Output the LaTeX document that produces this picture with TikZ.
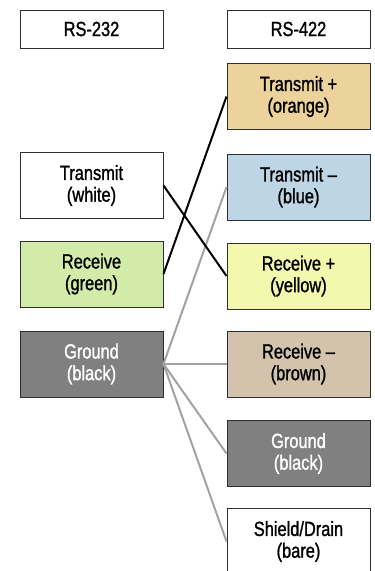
\documentclass[tikz,border=0pt]{standalone}
\usepackage{fontspec}
\setmainfont{Liberation Sans}[FakeStretch=0.8,FakeBold=1.2]
\definecolor{borderc}{HTML}{2E2E2E}
\definecolor{orangec}{HTML}{ECD39B}
\definecolor{bluec}{HTML}{BDD5E4}
\definecolor{yellowc}{HTML}{F4F8AE}
\definecolor{brownc}{HTML}{D3C3AD}
\definecolor{greenc}{HTML}{D3EBA9}
\definecolor{grayc}{HTML}{808080}
\definecolor{wirec}{HTML}{A3A3A3}
\begin{document}
\begin{tikzpicture}[x=1pt,y=-1pt,
  box/.style={draw=borderc, line width=1pt, rectangle, inner sep=0pt,
    minimum width=143pt, minimum height=66pt, align=center,
    font=\fontsize{20.5}{21.7}\selectfont},
  head/.style={box, minimum height=38pt},
  darkbox/.style={box, fill=grayc, text=white},
  blackwire/.style={draw=black, line width=2pt},
  graywire/.style={draw=wirec, line width=2pt}]
\useasboundingbox (0,0) rectangle (375,571);
\fill[white] (0,0) rectangle (375,571);
% headers
\node[head] (h232) at (91.5,29) {RS-232};
\node[head] (h422) at (298.5,29) {RS-422};
% left column
\node[box] (ltx) at (91.5,185.5) {Transmit\\(white)};
\node[box, fill=greenc] (lrx) at (91.5,274) {Receive\\(green)};
\node[darkbox] (lgnd) at (91.5,364) {Ground\\(black)};
% right column
\node[box, fill=orangec] (rtxp) at (298.5,96.5) {Transmit +\\(orange)};
\node[box, fill=bluec] (rtxm) at (298.5,187) {Transmit --\\(blue)};
\node[box, fill=yellowc] (rrxp) at (298.5,276) {Receive +\\(yellow)};
\node[box, fill=brownc] (rrxm) at (298.5,364) {Receive --\\(brown)};
\node[darkbox] (rgnd) at (298.5,453.5) {Ground\\(black)};
\node[box] (rshd) at (298.5,541.5) {Shield/Drain\\(bare)};
% wires
\draw[graywire] (lgnd.east) -- (rtxm.west);
\draw[graywire] (lgnd.east) -- (rrxm.west);
\draw[graywire] (lgnd.east) -- (rgnd.west);
\draw[graywire] (lgnd.east) -- (rshd.west);
\draw[blackwire] (ltx.east) -- (rrxp.west);
\draw[blackwire] (lrx.east) -- (rtxp.west);
\end{tikzpicture}
\end{document}
